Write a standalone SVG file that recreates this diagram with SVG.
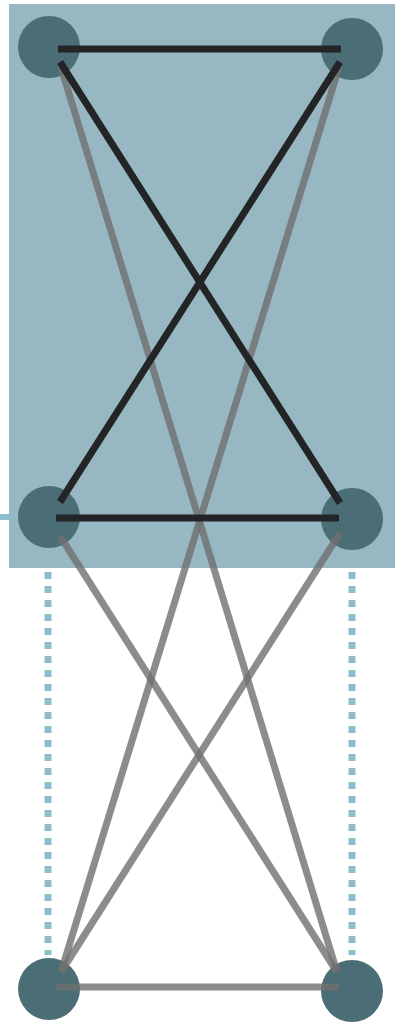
<svg xmlns="http://www.w3.org/2000/svg" width="395" height="1023" viewBox="0 0 395 1023">
<style>
.node{fill:#4a6d76}
.blk{stroke:#222426;stroke-width:7;fill:none}
.gry{stroke:#6f6f6f;stroke-opacity:0.8;stroke-width:7;fill:none}
.dot{stroke:#8dbccb;stroke-width:7;stroke-dasharray:7 7;fill:none}
</style>
<rect id="panel" x="9" y="4" width="386" height="564" fill="#97b8c2"/>
<line x1="0" y1="517" x2="12" y2="517" stroke="#8dbccb" stroke-width="6"/>
<g id="n1"><circle class="node" cx="49" cy="47" r="31"/></g>
<g id="n2"><circle class="node" cx="352" cy="49" r="31"/></g>
<g id="n3"><circle class="node" cx="49" cy="517" r="31"/></g>
<g id="n4"><circle class="node" cx="352" cy="519" r="31"/></g>
<g id="n5"><circle class="node" cx="49" cy="989" r="31"/></g>
<g id="n6"><circle class="node" cx="352" cy="991" r="31"/></g>
<g id="connectors">
<line class="dot" x1="48" y1="572" x2="48" y2="955"/>
<line class="dot" x1="352" y1="572" x2="352" y2="955"/>
<line class="gry" x1="60" y1="64" x2="337" y2="972"/>
<line class="gry" x1="340" y1="64" x2="61" y2="972"/>
<line class="gry" x1="60" y1="536" x2="337" y2="972"/>
<line class="gry" x1="340" y1="533" x2="61" y2="972"/>
<line class="gry" x1="56" y1="987" x2="339" y2="987"/>
<line class="blk" x1="58" y1="49" x2="341" y2="49"/>
<line class="blk" x1="60" y1="62" x2="340" y2="503"/>
<line class="blk" x1="340" y1="62" x2="60" y2="502"/>
<line class="blk" x1="56" y1="518" x2="339" y2="518"/>
</g>
</svg>
